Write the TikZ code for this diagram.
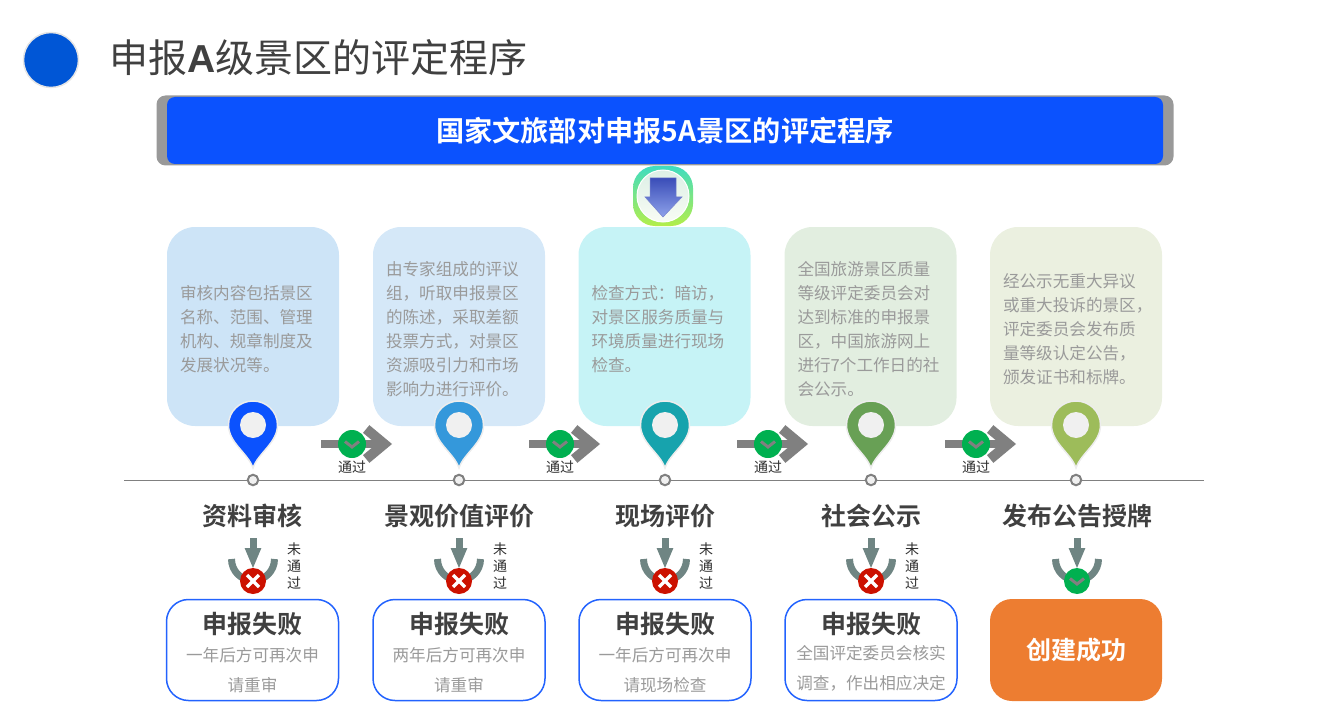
\documentclass[tikz,border=0pt]{standalone}
\usepackage{fontspec}
\setmainfont{Noto Sans CJK SC}[BoldFont={* Bold}]
\newfontfamily\latinbold{Liberation Sans Bold}
\usetikzlibrary{arrows.meta}
\definecolor{inkdark}{HTML}{404040}
\definecolor{inksmall}{HTML}{2E2E2E}
\definecolor{inkgray}{HTML}{9A9A9A}
\definecolor{headblue}{HTML}{0B52FE}
\definecolor{dotblue}{HTML}{0056D6}
\definecolor{passgray}{HTML}{808080}
\definecolor{okgreen}{HTML}{00B050}
\definecolor{failred}{HTML}{CC1100}
\definecolor{downgray}{HTML}{6F8583}
\definecolor{orangebox}{HTML}{ED7D31}
\definecolor{cardA}{HTML}{CDE4F7}
\definecolor{cardB}{HTML}{D5E8F8}
\definecolor{cardC}{HTML}{C6F3F6}
\definecolor{cardD}{HTML}{E2EEE0}
\definecolor{cardE}{HTML}{EBF0E0}
\definecolor{pinA}{HTML}{0B52FE}
\definecolor{pinB}{HTML}{3498DB}
\definecolor{pinC}{HTML}{17A3AD}
\definecolor{pinD}{HTML}{68A055}
\definecolor{pinE}{HTML}{9DBC5A}
\definecolor{ringtop}{HTML}{3FDCC0}
\definecolor{ringbot}{HTML}{B4EE4A}
\definecolor{innertop}{HTML}{DCEFE6}
\definecolor{innerbot}{HTML}{F8FCF4}
\definecolor{arrowtop}{HTML}{3A4DB8}
\definecolor{arrowbot}{HTML}{8EA2EA}
\tikzset{
	card/.style={rounded corners=28pt,minimum width=172pt,minimum height=199pt,inner xsep=13pt,inner ysep=0pt,text width=146pt,align=left,text=inkgray,font=\fontsize{16.6}{24}\selectfont,execute at begin node={\rule{0pt}{19pt}}},
	stagename/.style={text=inkdark,font=\fontsize{25}{30}\bfseries\selectfont},
	failbox/.style={draw=headblue!90!white,line width=1.5pt,fill=white,rounded corners=22pt,minimum width=172pt,minimum height=101pt},
	failnote/.style={align=center,text=inkgray,font=\fontsize{16.6}{30}\selectfont},
	password/.style={text=inksmall,font=\fontsize{14}{16}\selectfont},
	vertword/.style={align=center,text=inksmall,font=\fontsize{14}{17}\selectfont},
	linedot/.style={circle,draw=passgray,line width=2pt,fill=black!6,minimum size=10.5pt,inner sep=0pt},
	passarrow/.style={draw=passgray,line width=8pt,-{Straight Barb[length=18pt,width=30pt,line width=10pt]}},
	downarrow/.style={draw=downgray,line width=7pt,-{Triangle[length=21pt,width=15pt]}},
	okbadge/.style={circle,fill=okgreen,inner sep=0pt,path picture={
		\draw[passgray,line width=3pt] ([xshift=-7pt,yshift=2.5pt]path picture bounding box.center)--([yshift=-3pt]path picture bounding box.center)--([xshift=7pt,yshift=2.5pt]path picture bounding box.center);}},
	nobadge/.style={circle,fill=failred,minimum size=26pt,inner sep=0pt,path picture={
		\draw[white,line width=3.5pt] ([xshift=-6pt,yshift=6pt]path picture bounding box.center)--([xshift=6pt,yshift=-6pt]path picture bounding box.center);
		\draw[white,line width=3.5pt] ([xshift=-6pt,yshift=-6pt]path picture bounding box.center)--([xshift=6pt,yshift=6pt]path picture bounding box.center);}},
	pics/mappin/.style={code={
		\draw[fill=#1,draw=black!7,line width=1.5pt] (0,43) .. controls (-5,28) and (-24.5,18) .. (-24.5,0) .. controls (-24.5,-13.5) and (-13.5,-24) .. (0,-24) .. controls (13.5,-24) and (24.5,-13.5) .. (24.5,0) .. controls (24.5,18) and (5,28) .. (0,43)--cycle;
		\fill[black!6] (0,-13) .. controls (7.2,-13) and (13,-7.2) .. (13,0) .. controls (13,7.2) and (7.2,13) .. (0,13) .. controls (-7.2,13) and (-13,7.2) .. (-13,0) .. controls (-13,-7.2) and (-7.2,-13) .. (0,-13)--cycle;
	}},
	pics/cupmark/.style={code={
		\draw[downgray,line width=7pt] (-21.5,0) .. controls (-21.5,12) and (-12,21.5) .. (0,21.5) .. controls (12,21.5) and (21.5,12) .. (21.5,0);
	}},
}
\begin{document}
\begin{tikzpicture}[x=1pt,y=-1pt]
	\useasboundingbox (0,0) rectangle (1322,714);
	
	\node[circle,fill=dotblue,draw=black!10,line width=1.5pt,minimum size=55pt,inner sep=0pt] (HD) at (51,60) {};
	\node[anchor=west,text=inkdark,inner sep=0pt,font=\fontsize{39}{44}\selectfont] (HT) at (109,58) {申报{\latinbold A}级景区的评定程序};
	
	\node[fill=black!40,rounded corners=9pt,minimum width=1017pt,minimum height=70pt,inner sep=0pt] (BS) at (665,130.5) {};
	\node[fill=headblue,rounded corners=8pt,minimum width=996pt,minimum height=67pt,inner sep=0pt,text=white,font=\fontsize{28.2}{32}\bfseries\selectfont] (BN) at (665,130.5) {国家文旅部对申报5A景区的评定程序};
	
	\node[top color=ringtop,bottom color=ringbot,rounded corners=22pt,minimum size=60pt,inner sep=0pt] (RG) at (663,196) {};
	\node[circle,draw=white,line width=1pt,top color=innertop,bottom color=innerbot,minimum size=52pt,inner sep=0pt] (RC) at (663,196) {};
	\draw[draw=arrowtop!70!white,line width=.5pt,top color=arrowtop,bottom color=arrowbot] (650,178)--(676,178)--(676,197)--(682,197)--(663,217)--(645,197)--(650,197)--cycle;
	
	\node[card,fill=cardA] (CA) at (253,326.5) {审核内容包括景区\\名称、范围、管理\\机构、规章制度及\\发展状况等。};
	\node[card,fill=cardB] (CB) at (459,326.5) {由专家组成的评议\\组，听取申报景区\\的陈述，采取差额\\投票方式，对景区\\资源吸引力和市场\\影响力进行评价。};
	\node[card,fill=cardC] (CC) at (664.5,326.5) {检查方式：暗访，\\对景区服务质量与\\环境质量进行现场\\检查。};
	\node[card,fill=cardD] (CD) at (870.5,326.5) {全国旅游景区质量\\等级评定委员会对\\达到标准的申报景\\区，中国旅游网上\\进行7个工作日的社\\会公示。};
	\node[card,fill=cardE] (CE) at (1076,326.5) {经公示无重大异议\\或重大投诉的景区，\\评定委员会发布质\\量等级认定公告，\\颁发证书和标牌。};
	
	\coordinate (LA) at (124,480);
	\coordinate (LB) at (1204,480);
	\draw[passgray,line width=1pt] (LA)--(LB);
	\node[linedot] (DA) at (253,480) {};
	\node[linedot] (DB) at (459,480) {};
	\node[linedot] (DC) at (665,480) {};
	\node[linedot] (DD) at (871,480) {};
	\node[linedot] (DE) at (1076,480) {};
	
	\pic (PA) at (253,425) {mappin=pinA};
	\pic (PB) at (459,425) {mappin=pinB};
	\pic (PC) at (665,425) {mappin=pinC};
	\pic (PD) at (871,425) {mappin=pinD};
	\pic (PE) at (1076,425) {mappin=pinE};
	
	\coordinate (AA) at (321,444);
	\coordinate (AB) at (392,444);
	\coordinate (AC) at (529,444);
	\coordinate (AD) at (600,444);
	\coordinate (AE) at (737,444);
	\coordinate (AF) at (808,444);
	\coordinate (AG) at (945,444);
	\coordinate (AH) at (1016,444);
	\draw[passarrow] (AA)--(AB);
	\draw[passarrow] (AC)--(AD);
	\draw[passarrow] (AE)--(AF);
	\draw[passarrow] (AG)--(AH);
	\node[okbadge,minimum size=28pt] (OA) at (352,444) {};
	\node[okbadge,minimum size=28pt] (OB) at (560,444) {};
	\node[okbadge,minimum size=28pt] (OC) at (768,444) {};
	\node[okbadge,minimum size=28pt] (OD) at (976,444) {};
	\node[password] (WA) at (352,467) {通过};
	\node[password] (WB) at (560,467) {通过};
	\node[password] (WC) at (768,467) {通过};
	\node[password] (WD) at (976,467) {通过};
	
	\node[stagename] (TA) at (252.5,516) {资料审核};
	\node[stagename] (TB) at (459,516) {景观价值评价};
	\node[stagename] (TC) at (665,516) {现场评价};
	\node[stagename] (TD) at (871,516) {社会公示};
	\node[stagename] (TE) at (1077,516) {发布公告授牌};
	
	\pic (UA) at (253,559) {cupmark};
	\pic (UB) at (459,559) {cupmark};
	\pic (UC) at (665,559) {cupmark};
	\pic (UD) at (871,559) {cupmark};
	\pic (UE) at (1077,559) {cupmark};
	\coordinate (SA) at (253,538);
	\coordinate (EA) at (253,569);
	\coordinate (SB) at (459,538);
	\coordinate (EB) at (459,569);
	\coordinate (SC) at (665,538);
	\coordinate (EC) at (665,569);
	\coordinate (SD) at (871,538);
	\coordinate (ED) at (871,569);
	\coordinate (SE) at (1077,538);
	\coordinate (EE) at (1077,569);
	\draw[downarrow] (SA)--(EA);
	\draw[downarrow] (SB)--(EB);
	\draw[downarrow] (SC)--(EC);
	\draw[downarrow] (SD)--(ED);
	\draw[downarrow] (SE)--(EE);
	\node[nobadge] (XA) at (253,581) {};
	\node[nobadge] (XB) at (459,581) {};
	\node[nobadge] (XC) at (665,581) {};
	\node[nobadge] (XD) at (871,581) {};
	\node[okbadge,minimum size=26pt] (XE) at (1077,581) {};
	\node[vertword] (VA) at (294,566) {未\\通\\过};
	\node[vertword] (VB) at (500,566) {未\\通\\过};
	\node[vertword] (VC) at (706,566) {未\\通\\过};
	\node[vertword] (VD) at (912,566) {未\\通\\过};
	
	\node[failbox] (FA) at (252.5,650) {};
	\node[failbox] (FB) at (459,650) {};
	\node[failbox] (FC) at (665,650) {};
	\node[failbox] (FD) at (871,650) {};
	\node[fill=orangebox,rounded corners=22pt,minimum width=172pt,minimum height=102pt,text=white,font=\fontsize{25}{30}\bfseries\selectfont] (FE) at (1076,650) {创建成功};
	\node[stagename] (GA) at (252.5,624) {申报失败};
	\node[stagename] (GB) at (459,624) {申报失败};
	\node[stagename] (GC) at (665,624) {申报失败};
	\node[stagename] (GD) at (871,624) {申报失败};
	\node[failnote] (NA) at (252.5,670) {一年后方可再次申\\请重审};
	\node[failnote] (NB) at (459,670) {两年后方可再次申\\请重审};
	\node[failnote] (NC) at (665,670) {一年后方可再次申\\请现场检查};
	\node[failnote] (ND) at (871,668.5) {全国评定委员会核实\\调查，作出相应决定};
\end{tikzpicture}
\end{document}
